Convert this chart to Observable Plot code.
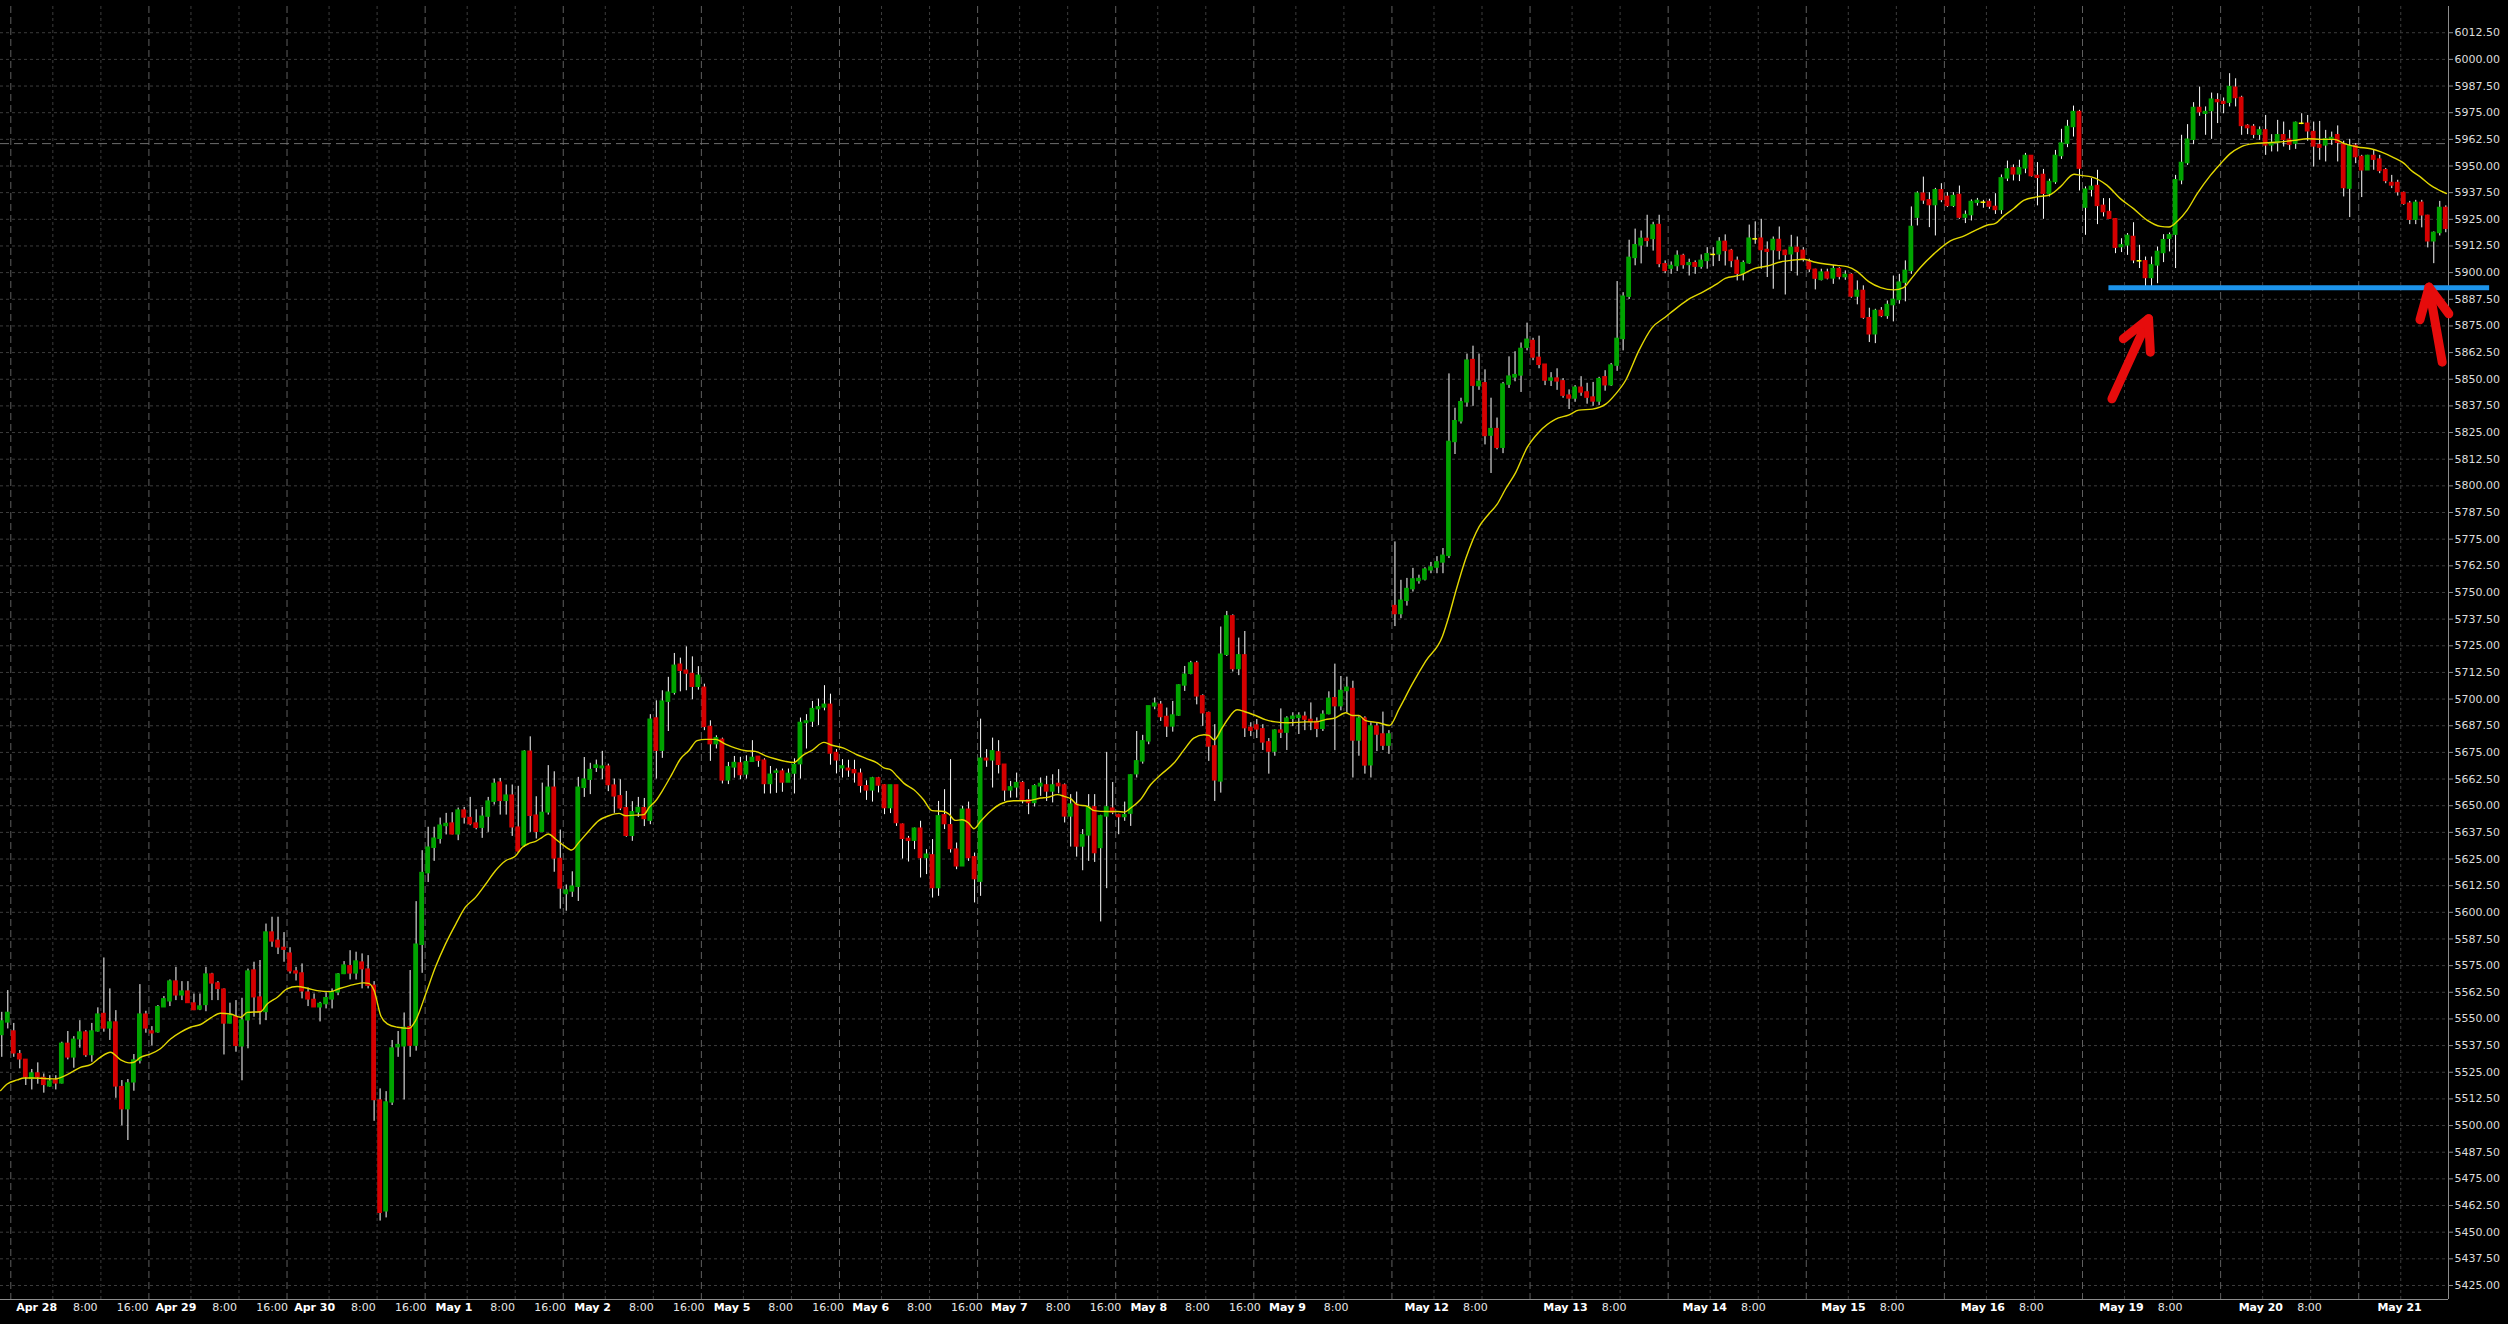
<!DOCTYPE html>
<html><head><meta charset="utf-8">
<script src="https://cdn.jsdelivr.net/npm/d3@7"></script>
<script src="https://cdn.jsdelivr.net/npm/@observablehq/plot@0.6"></script>
<style>html,body{margin:0;padding:0;background:#000;overflow:hidden}</style>
</head><body><div id="chart"></div>
<script>
// Hourly bars, index 0..407 (23 bars per session day)
const OPEN = [
5542.5,5548.4,5544.1,5533.4,5530.8,5521.9,5524.4,5522.3,5518.4,5521.1,
5519.8,5538.3,5532.0,5540.5,5543.6,5533.1,5544.2,5552.3,5545.6,5548.3,
5518.0,5507.7,5520.3,5530.5,5552.0,5544.1,5543.8,5555.5,5558.3,5567.5,
5561.1,5562.8,5557.2,5554.5,5556.6,5570.8,5566.6,5563.7,5547.9,5550.8,
5537.2,5549.4,5572.7,5560.0,5553.3,5590.5,5586.6,5583.3,5580.6,5572.2,
5571.3,5562.3,5558.9,5555.5,5557.0,5559.2,5562.5,5571.1,5574.7,5571.4,
5576.4,5573.1,5565.5,5511.7,5459.8,5510.9,5536.8,5537.2,5546.1,5537.5,
5584.8,5618.4,5630.3,5634.5,5640.5,5641.6,5636.6,5647.7,5644.2,5641.6,
5639.7,5644.9,5651.9,5660.8,5652.3,5654.7,5639.7,5631.3,5675.3,5645.3,
5637.8,5646.9,5658.4,5625.0,5608.6,5609.8,5612.0,5658.4,5662.2,5667.8,
5667.6,5668.3,5659.4,5654.4,5648.8,5635.9,5646.9,5648.8,5643.0,5690.9,
5675.8,5698.8,5703.0,5716.1,5713.3,5711.7,5705.8,5705.3,5686.9,5678.9,
5680.9,5661.9,5668.0,5669.8,5664.7,5670.6,5672.9,5671.1,5660.2,5665.5,
5666.0,5660.9,5665.1,5669.5,5688.8,5689.5,5695.3,5696.1,5697.3,5674.7,
5667.6,5667.3,5666.6,5665.0,5659.1,5657.2,5662.8,5659.5,5648.9,5659.5,
5641.1,5634.4,5633.6,5639.2,5625.5,5626.7,5611.4,5645.5,5640.8,5629.4,
5621.6,5648.1,5625.8,5614.4,5672.0,5671.3,5675.0,5669.2,5657.2,5658.6,
5660.6,5652.5,5651.3,5659.1,5659.5,5656.7,5660.2,5659.5,5645.0,5650.5,
5630.9,5636.1,5649.2,5630.2,5645.0,5648.6,5645.5,5644.7,5646.3,5664.8,
5670.8,5680.2,5696.6,5697.3,5691.6,5687.2,5692.3,5706.4,5711.9,5716.7,
5701.3,5693.4,5677.8,5661.4,5720.8,5738.8,5714.1,5720.5,5686.5,5687.6,
5685.8,5679.7,5675.4,5685.2,5684.3,5690.8,5691.2,5691.7,5690.2,5689.3,
5686.1,5693.0,5700.4,5696.7,5703.8,5704.7,5680.6,5690.8,5669.0,5687.1,
5683.4,5678.2,5743.6,5739.9,5746.1,5751.6,5755.4,5756.1,5760.4,5761.7,
5764.1,5767.2,5820.6,5830.3,5839.2,5859.0,5846.8,5848.1,5823.6,5826.6,
5817.9,5847.5,5850.9,5851.8,5864.8,5867.9,5860.0,5856.8,5849.4,5850.3,
5849.0,5842.3,5841.0,5846.0,5843.8,5841.4,5839.6,5850.9,5847.2,5856.4,
5868.9,5888.7,5906.9,5912.8,5915.8,5915.8,5922.3,5903.9,5901.9,5903.1,
5907.8,5903.6,5904.4,5902.8,5905.5,5908.3,5908.6,5914.4,5910.2,5905.5,
5899.5,5904.4,5915.6,5915.9,5910.6,5910.6,5915.3,5910.2,5908.6,5911.6,
5910.2,5904.7,5901.3,5896.6,5900.0,5897.3,5901.6,5897.9,5898.9,5888.8,
5891.4,5878.6,5871.1,5882.0,5879.7,5884.8,5887.2,5895.3,5900.8,5925.8,
5937.0,5933.9,5931.7,5938.6,5935.5,5931.3,5936.4,5925.8,5927.0,5932.8,
5932.8,5933.1,5930.8,5929.4,5944.2,5948.9,5946.1,5948.9,5954.7,5945.3,
5945.8,5937.0,5942.5,5954.7,5960.5,5968.3,5975.3,5930.5,5938.9,5940.6,
5931.3,5928.4,5925.0,5912.0,5912.8,5916.7,5905.3,5905.3,5897.5,5903.4,
5909.2,5915.9,5917.8,5943.3,5951.4,5962.3,5977.2,5974.5,5975.8,5980.8,
5980.0,5979.7,5986.7,5981.9,5968.8,5968.3,5964.7,5966.7,5959.7,5960.8,
5964.4,5962.3,5960.5,5969.8,5969.8,5965.9,5959.7,5959.7,5962.5,5964.4,
5960.0,5939.4,5959.4,5954.2,5948.0,5954.7,5953.0,5948.0,5942.0,5942.0,
5937.3,5932.3,5924.8,5932.7,5926.6,5914.7,5918.6,5930.3];
const HIGH = [
5553.1,5563.3,5547.9,5535.2,5530.8,5526.3,5529.4,5524.2,5523.4,5523.4,
5539.1,5544.1,5541.7,5549.2,5544.5,5547.9,5555.2,5578.6,5564.1,5553.9,
5521.1,5521.6,5533.3,5566.1,5553.6,5546.4,5556.3,5560.5,5568.3,5574.2,
5567.5,5567.5,5561.7,5561.7,5574.2,5571.4,5567.5,5564.1,5557.4,5558.6,
5559.7,5573.4,5576.6,5577.4,5594.5,5597.7,5597.7,5590.5,5583.4,5574.2,
5575.8,5564.5,5561.7,5557.8,5562.2,5564.1,5571.3,5576.9,5582.0,5581.3,
5580.5,5579.7,5567.5,5517.2,5515.9,5539.9,5544.1,5552.8,5572.7,5605.0,
5628.9,5639.9,5639.9,5644.2,5646.4,5646.7,5648.9,5649.2,5653.9,5648.1,
5649.2,5653.9,5662.5,5662.8,5659.7,5659.7,5659.1,5675.8,5682.3,5654.2,
5660.6,5668.8,5665.9,5638.6,5612.8,5619.0,5663.3,5672.6,5669.9,5671.4,
5675.5,5669.5,5662.5,5662.2,5656.7,5651.9,5653.9,5653.4,5692.7,5699.2,
5703.9,5710.2,5721.4,5719.2,5724.5,5719.8,5715.2,5707.0,5689.8,5682.8,
5681.7,5670.3,5673.1,5672.7,5673.4,5680.5,5673.0,5672.0,5668.4,5667.2,
5667.2,5667.2,5672.0,5691.1,5692.7,5698.9,5700.0,5706.3,5702.3,5676.3,
5671.6,5671.3,5671.3,5667.2,5661.7,5663.3,5663.3,5659.8,5659.5,5659.5,
5641.4,5635.6,5639.5,5642.7,5629.4,5634.1,5652.0,5657.5,5671.6,5632.5,
5649.7,5651.7,5627.8,5690.6,5676.3,5681.7,5680.5,5669.2,5661.4,5665.3,
5661.4,5657.5,5659.8,5663.0,5663.8,5664.5,5666.9,5660.2,5655.2,5656.4,
5638.8,5655.2,5655.2,5645.5,5675.0,5660.9,5646.0,5651.7,5664.5,5684.8,
5683.0,5696.6,5700.5,5698.9,5695.8,5698.9,5706.7,5715.3,5717.7,5717.7,
5702.0,5693.9,5688.0,5733.8,5741.1,5739.5,5728.6,5731.7,5688.9,5690.4,
5688.0,5681.5,5685.6,5695.4,5691.7,5693.6,5693.6,5693.9,5698.2,5691.2,
5694.5,5703.4,5716.4,5710.6,5710.3,5708.4,5691.7,5691.7,5688.9,5688.9,
5693.9,5685.2,5773.7,5755.7,5756.6,5761.3,5758.1,5761.6,5764.1,5766.8,
5770.6,5852.5,5836.4,5841.1,5861.8,5865.5,5861.8,5854.4,5841.1,5831.8,
5848.5,5860.5,5862.9,5867.0,5876.3,5869.2,5870.2,5856.8,5853.1,5854.9,
5850.3,5845.0,5847.0,5851.2,5848.1,5848.5,5850.9,5854.0,5857.4,5895.8,
5890.6,5915.2,5920.4,5919.5,5926.9,5923.6,5926.9,5905.5,5905.0,5910.2,
5908.6,5906.3,5905.5,5908.3,5911.7,5911.7,5916.4,5917.7,5910.9,5907.3,
5905.5,5922.3,5923.8,5925.0,5914.4,5916.7,5921.4,5910.5,5917.5,5916.7,
5911.7,5906.3,5901.6,5901.6,5901.6,5903.4,5902.3,5900.8,5899.5,5896.1,
5893.8,5883.3,5882.8,5883.6,5886.7,5898.4,5899.2,5905.5,5930.8,5937.9,
5944.8,5937.5,5939.5,5941.7,5937.5,5937.5,5940.6,5928.9,5934.1,5934.8,
5933.9,5934.4,5937.0,5945.8,5952.3,5950.5,5952.7,5955.9,5954.7,5951.6,
5948.4,5943.8,5957.3,5967.2,5971.4,5978.1,5976.1,5940.2,5944.1,5948.0,
5934.7,5934.7,5925.3,5915.9,5918.3,5923.4,5912.8,5907.3,5907.3,5912.0,
5917.8,5918.6,5945.6,5964.4,5969.4,5979.7,5987.0,5977.7,5984.2,5983.9,
5981.9,5993.3,5990.9,5982.7,5969.4,5969.4,5968.3,5973.7,5964.7,5971.4,
5970.6,5966.7,5970.6,5974.5,5973.7,5970.6,5970.9,5966.7,5965.9,5968.8,
5961.6,5962.5,5960.5,5955.0,5955.0,5957.3,5955.0,5948.8,5945.6,5943.3,
5937.8,5933.4,5933.9,5933.9,5926.9,5919.1,5933.4,5931.3];
const LOW = [
5532.0,5545.3,5532.0,5526.6,5518.8,5516.7,5519.4,5515.2,5518.0,5516.7,
5519.5,5530.8,5526.9,5536.3,5532.0,5529.7,5543.8,5543.8,5539.9,5512.8,
5499.9,5493.0,5516.1,5528.9,5543.3,5537.4,5543.3,5555.5,5555.8,5558.6,
5558.6,5557.4,5553.9,5553.9,5553.4,5558.6,5558.6,5533.1,5547.7,5534.4,
5521.0,5536.0,5550.8,5547.2,5549.2,5583.6,5580.2,5576.6,5571.1,5567.8,
5559.4,5555.8,5555.5,5548.6,5554.7,5554.7,5560.9,5570.8,5568.3,5568.3,
5564.1,5564.1,5502.0,5455.2,5456.7,5509.4,5532.0,5512.0,5532.0,5534.9,
5571.4,5614.0,5623.9,5632.0,5636.3,5636.3,5633.6,5641.4,5640.6,5638.7,
5634.7,5637.5,5650.3,5645.6,5645.6,5635.6,5627.7,5630.5,5637.5,5634.4,
5637.5,5645.6,5618.8,5601.5,5600.5,5607.0,5605.1,5653.9,5655.2,5665.6,
5662.2,5656.6,5646.4,5647.7,5635.2,5633.3,5644.5,5640.2,5641.1,5662.5,
5672.2,5684.8,5701.9,5703.4,5703.9,5699.7,5704.2,5685.2,5670.8,5676.6,
5660.2,5659.9,5662.9,5662.2,5662.5,5670.3,5668.0,5655.5,5655.5,5655.8,
5656.3,5660.9,5655.5,5662.5,5676.6,5686.7,5687.6,5694.5,5669.0,5664.9,
5663.0,5663.3,5660.6,5655.9,5652.5,5651.7,5656.0,5645.8,5646.3,5640.3,
5625.0,5623.6,5629.4,5616.1,5617.7,5606.7,5607.5,5638.8,5627.8,5620.0,
5621.6,5623.9,5604.4,5607.5,5668.0,5658.3,5664.9,5652.0,5653.6,5653.6,
5650.9,5645.8,5649.4,5654.4,5652.0,5651.3,5655.6,5641.9,5630.6,5625.9,
5619.5,5623.9,5623.4,5595.5,5611.1,5645.8,5636.4,5642.7,5640.3,5663.0,
5669.5,5678.6,5695.0,5689.5,5682.0,5684.5,5691.9,5703.6,5711.4,5697.3,
5687.2,5670.8,5652.0,5655.9,5720.0,5712.7,5711.0,5682.0,5682.4,5681.5,
5675.9,5664.8,5673.2,5681.5,5675.9,5687.1,5683.4,5685.2,5685.2,5681.9,
5684.8,5692.6,5675.9,5694.5,5693.6,5663.0,5673.2,5664.8,5663.0,5675.4,
5675.9,5674.1,5734.0,5737.7,5743.6,5750.2,5753.9,5755.4,5758.8,5758.8,
5758.8,5765.9,5814.7,5829.0,5836.9,5837.3,5844.8,5819.2,5805.8,5816.9,
5815.1,5845.7,5848.8,5843.8,5863.3,5858.7,5854.9,5847.0,5846.6,5844.8,
5841.1,5835.8,5839.2,5842.0,5838.3,5837.3,5837.7,5844.4,5846.6,5853.7,
5863.3,5887.4,5903.2,5904.1,5911.9,5910.1,5902.3,5899.5,5899.2,5900.5,
5901.6,5898.4,5899.2,5901.6,5901.6,5902.8,5905.2,5903.1,5902.3,5896.1,
5896.1,5903.9,5913.3,5901.6,5897.7,5892.2,5905.9,5889.5,5900.5,5898.4,
5905.0,5900.0,5891.9,5896.1,5896.6,5894.5,5896.6,5896.4,5888.0,5884.9,
5878.1,5867.2,5866.7,5878.9,5878.1,5876.9,5885.2,5886.3,5899.2,5921.9,
5932.0,5921.1,5917.2,5932.8,5930.5,5930.5,5925.0,5923.0,5924.2,5931.2,
5930.2,5929.7,5927.3,5927.3,5942.7,5943.0,5942.7,5946.4,5944.8,5931.3,
5925.0,5935.5,5941.4,5953.1,5958.6,5963.6,5938.3,5917.5,5935.5,5922.5,
5926.1,5925.0,5908.9,5909.4,5908.1,5904.2,5901.9,5893.3,5893.3,5894.8,
5904.7,5909.7,5901.9,5941.2,5950.3,5960.0,5973.3,5964.4,5962.5,5969.9,
5974.5,5977.7,5977.7,5964.4,5964.7,5962.8,5962.0,5955.0,5956.6,5956.6,
5958.9,5957.3,5957.8,5969.4,5961.6,5949.5,5952.7,5951.9,5959.7,5951.9,
5935.5,5925.8,5951.1,5935.2,5948.0,5948.0,5946.4,5941.7,5939.4,5935.9,
5931.6,5922.5,5922.5,5921.0,5911.6,5904.2,5917.2,5918.7];
const CLOSE = [
5548.8,5552.8,5533.9,5531.1,5522.7,5524.4,5522.7,5519.1,5520.6,5519.8,
5538.3,5532.0,5540.2,5543.6,5533.1,5544.1,5552.0,5545.6,5548.3,5518.4,
5507.7,5519.7,5530.5,5552.0,5545.6,5543.3,5555.5,5559.2,5567.5,5561.1,
5562.8,5557.5,5554.2,5555.8,5570.8,5566.7,5564.1,5547.9,5551.4,5537.4,
5549.2,5572.2,5560.2,5553.3,5590.5,5586.4,5583.6,5582.5,5572.4,5571.4,
5563.0,5559.2,5555.5,5557.0,5559.7,5562.5,5570.8,5575.0,5571.4,5576.9,
5573.4,5565.6,5512.0,5459.1,5510.8,5536.1,5537.7,5545.8,5537.5,5584.8,
5618.4,5630.3,5634.5,5640.6,5641.4,5636.6,5647.7,5644.5,5641.4,5639.7,
5644.8,5651.9,5660.2,5652.3,5654.7,5639.9,5628.6,5675.3,5645.3,5637.8,
5646.6,5658.4,5625.3,5611.2,5610.2,5612.0,5658.4,5662.2,5666.7,5668.8,
5668.3,5659.7,5654.4,5648.8,5635.9,5646.9,5648.9,5643.8,5690.3,5675.8,
5698.8,5703.0,5715.6,5713.3,5712.0,5705.8,5710.9,5687.0,5678.9,5681.6,
5661.9,5668.0,5670.0,5664.4,5670.4,5672.4,5671.1,5660.2,5664.5,5666.0,
5660.9,5664.9,5669.1,5688.8,5689.5,5695.3,5696.1,5697.3,5674.5,5671.3,
5668.4,5666.6,5665.3,5659.4,5657.2,5662.8,5659.5,5648.9,5659.5,5641.9,
5634.5,5633.6,5639.2,5625.5,5627.0,5611.4,5645.0,5641.4,5629.7,5621.6,
5648.1,5625.5,5615.6,5672.0,5671.3,5675.5,5669.2,5657.2,5658.6,5660.6,
5652.5,5651.3,5659.1,5660.2,5656.7,5659.5,5659.2,5645.0,5650.5,5630.9,
5636.1,5649.2,5627.8,5645.0,5649.2,5646.9,5644.7,5645.5,5664.2,5670.8,
5680.2,5696.6,5697.8,5691.6,5687.2,5692.3,5706.4,5711.4,5716.7,5701.3,
5693.4,5677.8,5661.9,5720.8,5738.8,5714.1,5720.5,5686.4,5685.2,5685.8,
5679.7,5675.4,5685.2,5684.3,5690.8,5691.7,5692.1,5690.4,5689.3,5686.1,
5692.6,5700.1,5696.7,5703.8,5705.3,5680.6,5690.8,5668.9,5687.1,5683.4,
5678.2,5683.4,5739.9,5746.1,5751.6,5756.1,5756.3,5760.7,5761.7,5764.1,
5767.2,5820.6,5830.3,5839.2,5858.7,5847.0,5848.8,5823.4,5826.6,5817.9,
5847.5,5851.2,5851.9,5864.2,5868.5,5860.2,5856.8,5849.4,5850.3,5849.0,
5842.3,5841.0,5846.0,5843.8,5841.4,5839.6,5850.0,5847.2,5856.4,5868.9,
5888.7,5906.9,5912.8,5915.8,5914.9,5922.1,5904.1,5900.8,5903.1,5907.8,
5903.6,5904.4,5902.8,5905.5,5908.6,5908.3,5914.4,5910.2,5905.5,5899.5,
5904.4,5915.9,5915.6,5910.6,5909.8,5915.3,5910.2,5908.3,5911.6,5909.7,
5906.3,5901.6,5897.2,5900.0,5897.3,5901.6,5898.1,5898.9,5888.8,5891.4,
5878.9,5871.1,5882.0,5879.7,5884.8,5887.2,5895.3,5900.8,5921.4,5937.0,
5933.9,5931.7,5938.6,5934.1,5931.3,5935.9,5925.8,5927.0,5933.1,5933.6,
5932.8,5931.0,5929.4,5944.2,5948.4,5946.1,5948.9,5954.7,5945.3,5944.5,
5937.0,5942.5,5954.7,5960.5,5968.3,5975.3,5948.8,5938.9,5940.2,5931.3,
5928.4,5925.3,5911.7,5912.8,5917.2,5905.8,5905.3,5897.5,5903.4,5909.7,
5915.2,5917.5,5943.3,5951.4,5962.3,5977.2,5975.3,5975.3,5981.1,5980.0,
5979.2,5987.0,5981.9,5968.8,5967.8,5964.7,5966.7,5959.7,5960.8,5964.4,
5962.3,5960.0,5970.2,5969.8,5966.3,5959.2,5958.6,5962.5,5963.1,5960.9,
5939.7,5959.2,5954.2,5948.0,5954.7,5953.0,5947.7,5943.0,5940.9,5937.8,
5932.3,5924.8,5932.7,5926.9,5914.7,5918.6,5930.3,5920.6];

// Moving average line: [bar, value]
const MA_BAR = [-0.2,0.9,2.6,3.7,5.3,8.9,10.9,13.1,14.8,16.4,18.1,19.8,21.2,22.0,23.1,24.8,26.4,28.1,29.8,31.4,33.1,34.8,36.4,38.1,39.8,40.9,43.1,44.2,45.9,47.5,49.2,50.9,52.5,54.7,56.4,58.6,60.3,61.1,62.0,63.1,64.2,65.9,67.8,
68.9,70.6,72.2,73.9,75.6,77.2,78.9,80.6,82.2,83.9,85.5,86.7,87.8,88.9,90.0,91.0,92.2,93.6,94.9,96.1,97.8,99.4,101.1,102.8,103.9,105.5,106.9,107.8,108.9,110.0,111.6,113.0,114.4,115.8,117.2,118.9,120.5,122.2,123.9,125.5,127.2,128.9,130.5,131.9,133.3,135.0,136.9,
138.0,140.2,142.4,144.1,145.8,146.9,148.0,149.1,150.2,151.9,153.5,154.9,156.9,157.7,158.8,159.9,161.0,161.9,163.0,164.6,166.3,168.5,170.8,173.0,174.1,175.8,176.9,178.0,179.1,180.8,181.9,184.1,185.8,186.9,188.0,189.6,191.3,193.0,195.2,196.9,198.5,200.2,201.0,201.9,203.2,204.1,205.7,206.9,
208.8,210.4,212.1,214.3,217.1,218.8,220.4,222.1,223.8,224.9,226.0,227.1,229.3,231.1,232.7,234.9,237.1,239.9,241.0,242.1,243.8,246.0,247.6,249.0,250.4,252.1,254.0,256.0,258.7,261.0,262.6,264.9,267.1,268.7,270.4,272.6,274.8,277.0,
279.0,281.2,283.4,285.7,287.0,289.6,291.8,294.0,296.2,298.4,300.1,301.8,304.0,305.6,307.3,309.0,310.9,312.9,315.1,316.7,317.9,319.5,321.8,324.5,326.8,329.0,330.6,332.0,333.4,335.1,336.7,338.9,340.9,342.8,345.1,
346.2,348.1,350.6,352.8,355.0,357.3,359.5,360.9,362.3,363.9,365.6,367.8,369.5,371.1,372.8,375.0,377.3,379.5,381.7,384.0,386.2,388.4,390.1,392.3,394.5,396.2,398.4,400.1,401.2,402.8,404.5,405.6,407.1];
const MA_VAL = [5516.4,5519.5,5521.4,5522.3,5522.3,5521.9,5523.9,5527.3,5528.6,5532.0,5534.4,5530.8,5529.4,5529.7,5532.0,5533.6,5536.0,5540.6,5543.8,5546.1,5547.4,5550.5,5552.7,5552.3,5550.8,5553.1,5553.4,5557.0,5560.2,5564.1,5565.2,5564.4,5563.3,5562.8,5564.4,5566.1,5566.9,5566.7,5563.3,5551.6,5547.7,5546.1,5545.6,
5549.2,5561.7,5574.2,5585.2,5594.5,5602.4,5607.0,5613.3,5619.5,5624.2,5626.3,5630.5,5632.3,5633.3,5635.2,5636.7,5634.4,5631.3,5629.2,5632.8,5638.3,5643.0,5645.3,5646.4,5645.3,5645.6,5645.8,5649.2,5652.3,5657.0,5664.8,5671.9,5675.8,5680.5,5681.1,5681.1,5678.9,5677.0,5675.8,5675.5,5673.4,5671.9,5670.8,5670.3,5673.4,5676.1,5679.7,
5678.6,5677.0,5673.9,5672.0,5670.0,5667.7,5666.9,5663.8,5660.6,5657.5,5652.8,5647.7,5647.3,5646.1,5643.1,5643.4,5641.9,5639.2,5642.7,5647.3,5650.8,5652.3,5652.3,5653.6,5653.9,5655.2,5654.4,5653.3,5650.5,5649.7,5647.7,5647.3,5647.3,5647.0,5648.9,5652.8,5659.8,5664.5,5670.0,5676.3,5681.7,5683.3,5683.0,5680.9,5686.4,5690.3,5695.0,5694.2,
5692.3,5690.4,5689.3,5688.9,5689.3,5689.3,5690.4,5691.2,5693.6,5692.3,5692.3,5689.9,5688.9,5687.6,5695.4,5707.1,5717.7,5729.4,5739.0,5750.2,5765.9,5780.8,5786.7,5791.3,5798.4,5806.2,5817.9,5825.3,5831.2,5833.3,5835.5,5836.0,5838.3,5842.9,5849.4,5863.3,5874.1,5879.1,
5883.6,5888.0,5891.1,5894.8,5897.3,5898.9,5901.9,5903.1,5905.0,5905.9,5906.3,5905.0,5903.9,5903.4,5902.8,5900.5,5895.8,5893.0,5891.9,5893.0,5896.9,5902.4,5908.9,5914.9,5917.2,5920.3,5922.2,5923.1,5926.6,5930.2,5933.9,5935.5,5936.3,5940.2,5946.1,
5945.6,5944.8,5940.9,5934.7,5930.0,5924.5,5921.7,5921.4,5924.1,5929.2,5937.0,5945.6,5951.1,5955.8,5958.9,5960.5,5960.9,5961.3,5962.0,5962.8,5962.5,5962.5,5960.5,5958.9,5958.1,5956.6,5953.8,5951.1,5948.0,5944.8,5940.9,5939.1,5937.1];

// Axis labels (positions in bar units)
const DATE_LABELS = ["Apr 28","Apr 29","Apr 30","May 1","May 2","May 5","May 6","May 7","May 8","May 9","May 12","May 13","May 14","May 15","May 16","May 19","May 20","May 21"];
const DATE_LABEL_BARS = [5.8,29.0,52.1,75.3,98.4,121.6,144.7,167.8,191.0,214.1,237.3,260.4,283.6,306.7,329.9,353.0,376.2,399.3];
const H8_LABEL_BARS = [13.9,37.1,60.2,83.4,106.5,129.7,152.8,175.9,199.1,222.2,245.4,268.5,291.7,314.8,338.0,361.1,384.3];
const H16_LABEL_BARS = [21.8,45.0,68.1,91.3,114.4,137.6,160.7,183.8,207.0];
const Y_TICKS = d3.range(5425, 6013, 12.5);

// Annotations (bar, price)
const LEVEL_PRICE = 5892.9, LEVEL_FROM = 350.9, LEVEL_TO = 414.3;
const REF_PRICE = 5960.5;
const ARROWS = [
  {id:"a1s", pts:[[351.4,5840.8],[357.5,5878.4]]},
  {id:"a1h", pts:[[353.3,5869.0],[357.5,5878.4],[357.8,5862.7]]},
  {id:"a2s", pts:[[406.4,5858.0],[404.2,5893.2]]},
  {id:"a2h", pts:[[402.7,5877.9],[404.2,5893.2],[407.5,5880.7]]}
];

const BARS_PER_DAY = 23, N_DAYS = 18;
const candles = OPEN.map((o, i) => ({i, o, h: HIGH[i], l: LOW[i], c: CLOSE[i]}));
const ma = MA_BAR.map((b, k) => ({b, v: MA_VAL[k]}));
const arrowPts = ARROWS.flatMap(a => a.pts.map(([b, p]) => ({id: a.id, b, p})));
const xDomain = [-0.216, 407.45];
const yDomain = [5418.43, 6024.8];
const dayLines = d3.range(N_DAYS).map(k => 1.5 + BARS_PER_DAY * k);
const hourLines = d3.range(N_DAYS).map(k => 8.5 + BARS_PER_DAY * k)
  .concat(d3.range(N_DAYS).map(k => 16.5 + BARS_PER_DAY * k)).filter(b => b < xDomain[1]);
const dateTicks = DATE_LABELS.map((t, k) => ({b: DATE_LABEL_BARS[k], t}));
const timeTicks = H8_LABEL_BARS.map(b => ({b, t: "8:00"})).concat(H16_LABEL_BARS.map(b => ({b, t: "16:00"})));

const GREEN = "#00a300", RED = "#d40000", DOJI = "#ffff00";
const font = "DejaVu Sans, Verdana, sans-serif";

const chart = Plot.plot({
  width: 2508, height: 1324,
  marginLeft: 0, marginRight: 60, marginTop: 6, marginBottom: 25,
  style: {background: "#000", color: "#ddd", fontFamily: font, fontSize: "11px", overflow: "visible"},
  x: {domain: xDomain, axis: null},
  y: {domain: yDomain, axis: null},
  marks: [
    Plot.ruleY(Y_TICKS, {stroke: "#3c3c3c", strokeDasharray: "3,3"}),
    Plot.ruleX(hourLines, {stroke: "#3c3c3c", strokeDasharray: "3,3"}),
    Plot.ruleX(dayLines, {stroke: "#5e5e5e", strokeDasharray: "7,4"}),
    Plot.ruleY([REF_PRICE], {stroke: "#6e6e6e", strokeDasharray: "9,5"}),
    Plot.ruleX([xDomain[1]], {stroke: "#8c8c8c"}),
    Plot.ruleY([yDomain[0]], {x1: xDomain[0], x2: xDomain[1], stroke: "#8c8c8c"}),
    Plot.axisY({anchor: "right", ticks: Y_TICKS, tickFormat: d3.format(".2f"), tickSize: 4, tickPadding: 2,
      label: null, stroke: "#8c8c8c", fill: "#dcdcdc", fontSize: 11}),
    Plot.text(dateTicks, {x: "b", text: "t", frameAnchor: "bottom", dy: 11, fill: "#ffffff", fontWeight: "bold", fontSize: 11}),
    Plot.text(timeTicks, {x: "b", text: "t", frameAnchor: "bottom", dy: 11, fill: "#e6e6e6", fontSize: 11}),
    Plot.ruleX(candles, {x: "i", y1: "l", y2: "h", stroke: "#ffffff", strokeWidth: 1}),
    Plot.rect(candles, {x1: d => d.i - 0.4, x2: d => d.i + 0.4, y1: "o", y2: "c",
      fill: d => d.c > d.o ? GREEN : d.c < d.o ? RED : DOJI, insetTop: -0.75, insetBottom: -0.75}),
    Plot.line(ma, {x: "b", y: "v", stroke: "#e3d800", strokeWidth: 1.4, curve: "monotone-x"}),
    Plot.ruleY([{p: LEVEL_PRICE, x1: LEVEL_FROM, x2: LEVEL_TO}], {y: "p", x1: "x1", x2: "x2", stroke: "#1c93ea", strokeWidth: 5}),
    Plot.line(arrowPts, {x: "b", y: "p", z: "id", stroke: "#e60c0c", strokeWidth: 9, strokeLinecap: "round", strokeLinejoin: "round"})
  ]
});
document.getElementById("chart").appendChild(chart);
</script>
</body></html>
